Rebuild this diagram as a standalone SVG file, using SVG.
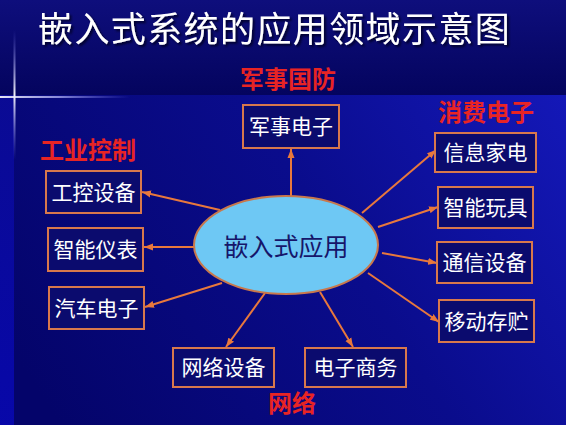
<svg xmlns="http://www.w3.org/2000/svg" width="566" height="425" viewBox="0 0 566 425">
  <defs>
    <linearGradient id="bgMain" x1="566" y1="95" x2="60" y2="425" gradientUnits="userSpaceOnUse">
      <stop offset="0" stop-color="#1418b8"/>
      <stop offset="0.45" stop-color="#0a0c8c"/>
      <stop offset="1" stop-color="#04046a"/>
    </linearGradient>
    <linearGradient id="bgTop" x1="0" y1="0" x2="0" y2="95" gradientUnits="userSpaceOnUse">
      <stop offset="0" stop-color="#0e0e7c"/>
      <stop offset="1" stop-color="#04045e"/>
    </linearGradient>
    <linearGradient id="strip" x1="0" y1="0" x2="0" y2="425" gradientUnits="userSpaceOnUse">
      <stop offset="0" stop-color="#0c0c90"/>
      <stop offset="1" stop-color="#0808b0"/>
    </linearGradient>
    <linearGradient id="vline" x1="0" y1="30" x2="0" y2="160" gradientUnits="userSpaceOnUse">
      <stop offset="0" stop-color="#8080ff" stop-opacity="0"/>
      <stop offset="0.5" stop-color="#ffffff" stop-opacity="0.95"/>
      <stop offset="1" stop-color="#8080ff" stop-opacity="0"/>
    </linearGradient>
    <linearGradient id="hline" x1="0" y1="0" x2="130" y2="0" gradientUnits="userSpaceOnUse">
      <stop offset="0" stop-color="#ffffff" stop-opacity="0.9"/>
      <stop offset="0.45" stop-color="#c0c0ff" stop-opacity="0.7"/>
      <stop offset="1" stop-color="#8080ff" stop-opacity="0"/>
    </linearGradient>
    <filter id="shadow" filterUnits="userSpaceOnUse" x="0" y="0" width="566" height="60">
      <feDropShadow dx="2" dy="2" stdDeviation="0.8" flood-color="#000020" flood-opacity="0.9"/>
    </filter>
    <marker id="arrow" markerUnits="userSpaceOnUse" markerWidth="10" markerHeight="8" refX="9" refY="4" orient="auto">
      <path d="M0,0.5 L9,4 L0,7.5 Z" fill="#e8783c"/>
    </marker>
    <style>
      .box { fill: #0b0b6e; stroke: #d8784c; stroke-width: 2; }
      .lbl { font-family: "Noto Sans CJK SC", sans-serif; font-size: 21px; fill: #ffffff; text-anchor: middle; }
      .cat { font-family: "Noto Sans CJK SC", sans-serif; font-size: 24px; font-weight: bold; fill: #e82424; text-anchor: middle; }
      .conn { stroke: #e8783c; stroke-width: 2; fill: none; marker-end: url(#arrow); }
    </style>
  </defs>

  <!-- background -->
  <rect x="0" y="0" width="566" height="425" fill="url(#bgMain)"/>
  <rect x="0" y="0" width="566" height="95" fill="url(#bgTop)"/>
  <rect x="0" y="95" width="14" height="330" fill="url(#strip)" opacity="0.9"/>
  <rect x="13.5" y="30" width="2" height="130" fill="url(#vline)"/>
  <rect x="0" y="96" width="130" height="2" fill="url(#hline)"/>

  <!-- title -->
  <text x="38" y="41.5" font-family="Noto Sans CJK SC, sans-serif" font-size="35" letter-spacing="1.4" fill="#ffffff" filter="url(#shadow)">嵌入式系统的应用领域示意图</text>

  <!-- category labels -->
  <text class="cat" x="288" y="88">军事国防</text>
  <text class="cat" x="486" y="121">消费电子</text>
  <text class="cat" x="88" y="159">工业控制</text>
  <text class="cat" x="292" y="412">网络</text>

  <!-- connectors -->
  <g id="connectors">
    <line class="conn" x1="291" y1="196" x2="291" y2="149"/>
    <line class="conn" x1="220" y1="210" x2="142" y2="192"/>
    <line class="conn" x1="194" y1="247" x2="144" y2="247"/>
    <line class="conn" x1="222" y1="283" x2="145" y2="307"/>
    <line class="conn" x1="362" y1="213" x2="436" y2="150"/>
    <line class="conn" x1="378" y1="227" x2="438" y2="207"/>
    <line class="conn" x1="382" y1="253" x2="437" y2="263"/>
    <line class="conn" x1="368" y1="273" x2="439" y2="322"/>
    <line class="conn" x1="265" y1="293" x2="226" y2="347"/>
    <line class="conn" x1="320" y1="292" x2="353" y2="347"/>
  </g>

  <!-- center -->
  <g id="center">
    <ellipse cx="286" cy="245" rx="92" ry="49" fill="#6ec8f4" stroke="#c8784c" stroke-width="2"/>
    <text x="286" y="256" font-family="Noto Sans CJK SC, sans-serif" font-size="25" fill="#16166a" text-anchor="middle">嵌入式应用</text>
  </g>

  <g id="n-junshi">
    <rect class="box" x="243" y="105" width="96" height="43"/>
    <text class="lbl" x="291" y="134">军事电子</text>
  </g>
  <g id="n-gongkong">
    <rect class="box" x="46" y="171" width="95" height="42"/>
    <text class="lbl" x="93.5" y="200">工控设备</text>
  </g>
  <g id="n-yibiao">
    <rect class="box" x="48" y="228" width="95" height="43"/>
    <text class="lbl" x="95.5" y="257">智能仪表</text>
  </g>
  <g id="n-qiche">
    <rect class="box" x="49" y="287" width="95" height="42"/>
    <text class="lbl" x="96.5" y="316">汽车电子</text>
  </g>
  <g id="n-jiadian">
    <rect class="box" x="435" y="133" width="101" height="39"/>
    <text class="lbl" x="485.5" y="160">信息家电</text>
  </g>
  <g id="n-wanju">
    <rect class="box" x="438" y="187" width="95" height="41"/>
    <text class="lbl" x="485.5" y="215">智能玩具</text>
  </g>
  <g id="n-tongxin">
    <rect class="box" x="437" y="242" width="95" height="41"/>
    <text class="lbl" x="484.5" y="270">通信设备</text>
  </g>
  <g id="n-cunzhu">
    <rect class="box" x="439" y="300" width="95" height="42"/>
    <text class="lbl" x="486.5" y="329">移动存贮</text>
  </g>
  <g id="n-wangluo">
    <rect class="box" x="173" y="348" width="101" height="39"/>
    <text class="lbl" x="223.5" y="375">网络设备</text>
  </g>
  <g id="n-shangwu">
    <rect class="box" x="305" y="348" width="101" height="39"/>
    <text class="lbl" x="355.5" y="375">电子商务</text>
  </g>
</svg>
